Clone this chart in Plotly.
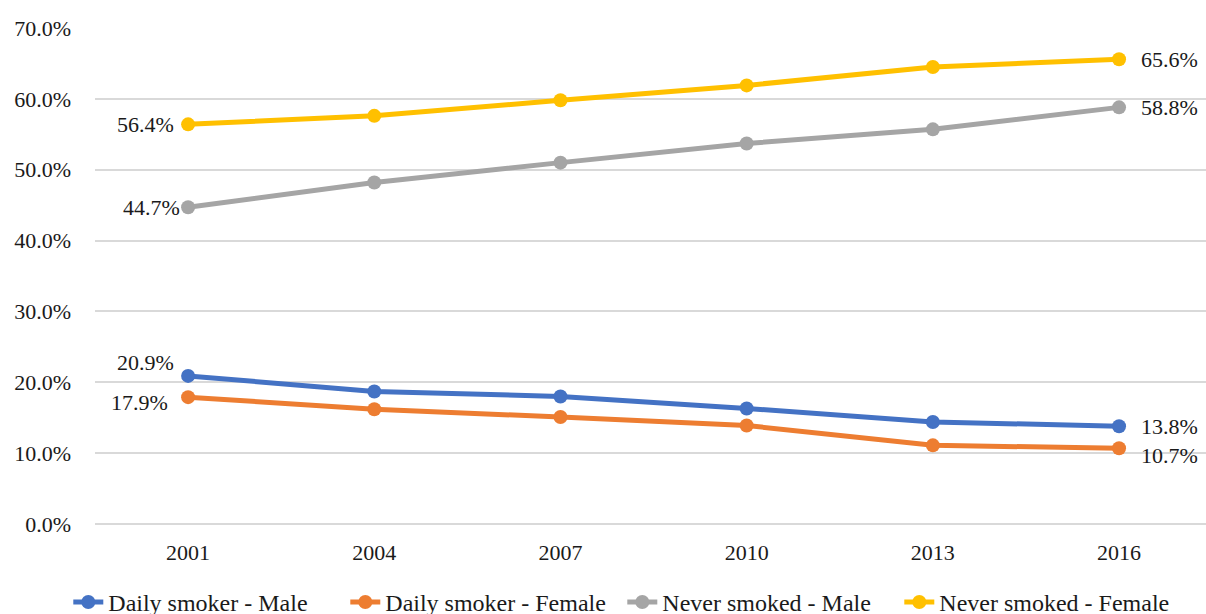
import plotly.graph_objects as go

years = ["2001", "2004", "2007", "2010", "2013", "2016"]

daily_male = [20.9, 18.7, 18.0, 16.3, 14.4, 13.8]
daily_female = [17.9, 16.2, 15.1, 13.9, 11.1, 10.7]
never_male = [44.7, 48.2, 51.0, 53.7, 55.7, 58.8]
never_female = [56.4, 57.6, 59.8, 61.9, 64.5, 65.6]

# name, values, colour, (first label x/y shift), (last label x/y shift)
series = [
    ("Daily smoker - Male", daily_male, "#4472C4", (-14, 13), (22, 0)),
    ("Daily smoker - Female", daily_female, "#ED7D31", (-20, -5), (22, -7)),
    ("Never smoked - Male", never_male, "#A5A5A5", (-8, 0), (22, 0)),
    ("Never smoked - Female", never_female, "#FFC000", (-14, 0), (22, 0)),
]

FONT = "Liberation Serif"
TEXT = "#1a1a1a"

fig = go.Figure()
for name, vals, color, first_shift, last_shift in series:
    fig.add_trace(go.Scatter(
        x=list(range(len(years))), y=vals, name=name,
        mode="lines+markers",
        line=dict(color=color, width=5),
        marker=dict(color=color, size=14),
        cliponaxis=False,
    ))
    # value labels on the first and last points
    for idx, anchor, (dx, dy) in ((0, "right", first_shift),
                                  (len(vals) - 1, "left", last_shift)):
        fig.add_annotation(
            x=idx, y=vals[idx], text=f"{vals[idx]:.1f}%",
            showarrow=False, xanchor=anchor, yanchor="middle",
            xshift=dx, yshift=dy, borderpad=0, borderwidth=0,
            font=dict(family=FONT, size=22, color=TEXT),
        )

fig.update_layout(
    width=1206, height=614,
    margin=dict(l=95, r=0, t=28, b=90, autoexpand=False),
    paper_bgcolor="white", plot_bgcolor="white",
    font=dict(family=FONT, size=22, color=TEXT),
    showlegend=True,
    legend=dict(
        orientation="h", xref="container", yref="container",
        x=0.516, xanchor="center", y=0.019, yanchor="middle",
        font=dict(family=FONT, size=24, color=TEXT),
        tracegroupgap=0, itemwidth=30,
        entrywidth=232, entrywidthmode="pixels",
    ),
    xaxis=dict(
        range=[-0.5, 5.467], tickmode="array",
        tickvals=list(range(len(years))), ticktext=years,
        showgrid=False, zeroline=False, showline=False,
        ticks="", ticklabelstandoff=13,
        tickfont=dict(family=FONT, size=22, color=TEXT),
    ),
    yaxis=dict(
        range=[0, 70], dtick=10, ticksuffix="%", tickformat=".1f",
        showgrid=True, gridcolor="#D9D9D9", gridwidth=1.5,
        zeroline=True, zerolinecolor="#D9D9D9", zerolinewidth=1.5,
        showline=False, ticks="", ticklabelstandoff=23,
        tickfont=dict(family=FONT, size=22, color=TEXT),
    ),
)

fig.write_html("out.html")
